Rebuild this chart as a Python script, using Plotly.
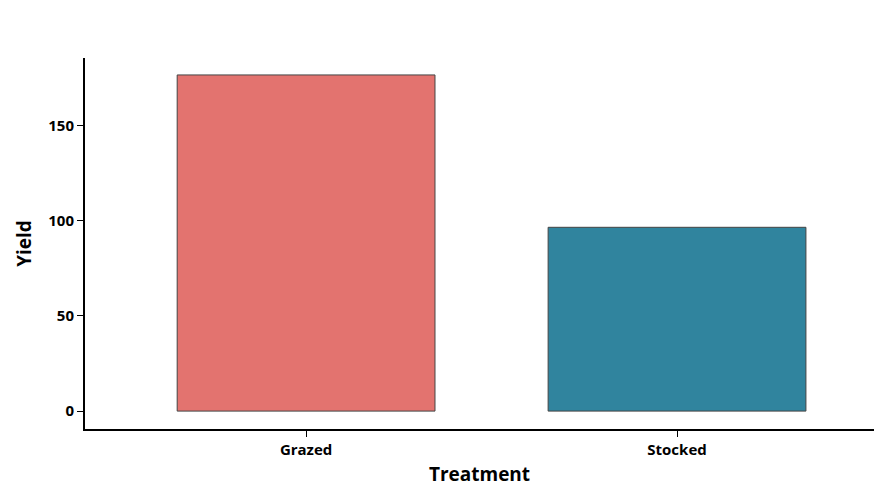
import plotly.graph_objects as go

categories = ["Grazed", "Stocked"]
yields = [176.5, 96.5]
colors = ["#E3736F", "#30849E"]
positions = [0, 1]

fig = go.Figure(go.Bar(
    x=positions, y=yields, width=0.695,
    marker=dict(color=colors, line=dict(color="#444444", width=1)),
))
fig.update_layout(
    width=882, height=486, plot_bgcolor="white", paper_bgcolor="white",
    margin=dict(l=77, r=16, t=50, b=62), showlegend=False,
    font=dict(family="Open Sans", size=14, color="black"),
)
fig.update_xaxes(
    range=[-0.596, 1.531], tickvals=positions, ticktext=categories,
    showline=True, linecolor="black", linewidth=2, ticks="outside", ticklen=6,
    tickcolor="black", showgrid=False, zeroline=False,
    tickfont=dict(size=15, family="Open Sans", weight="bold"),
    title=dict(text="<b>Treatment</b>", font=dict(size=19), standoff=10),
)
fig.update_yaxes(
    range=[-9.4, 185.4], tickvals=[0, 50, 100, 150],
    showline=True, linecolor="black", linewidth=2, ticks="outside", ticklen=6,
    tickcolor="black", showgrid=False, zeroline=False,
    tickfont=dict(size=15, family="Open Sans", weight="bold"),
    title=dict(text="<b>Yield</b>", font=dict(size=19), standoff=12),
)
fig.write_html("out.html")
